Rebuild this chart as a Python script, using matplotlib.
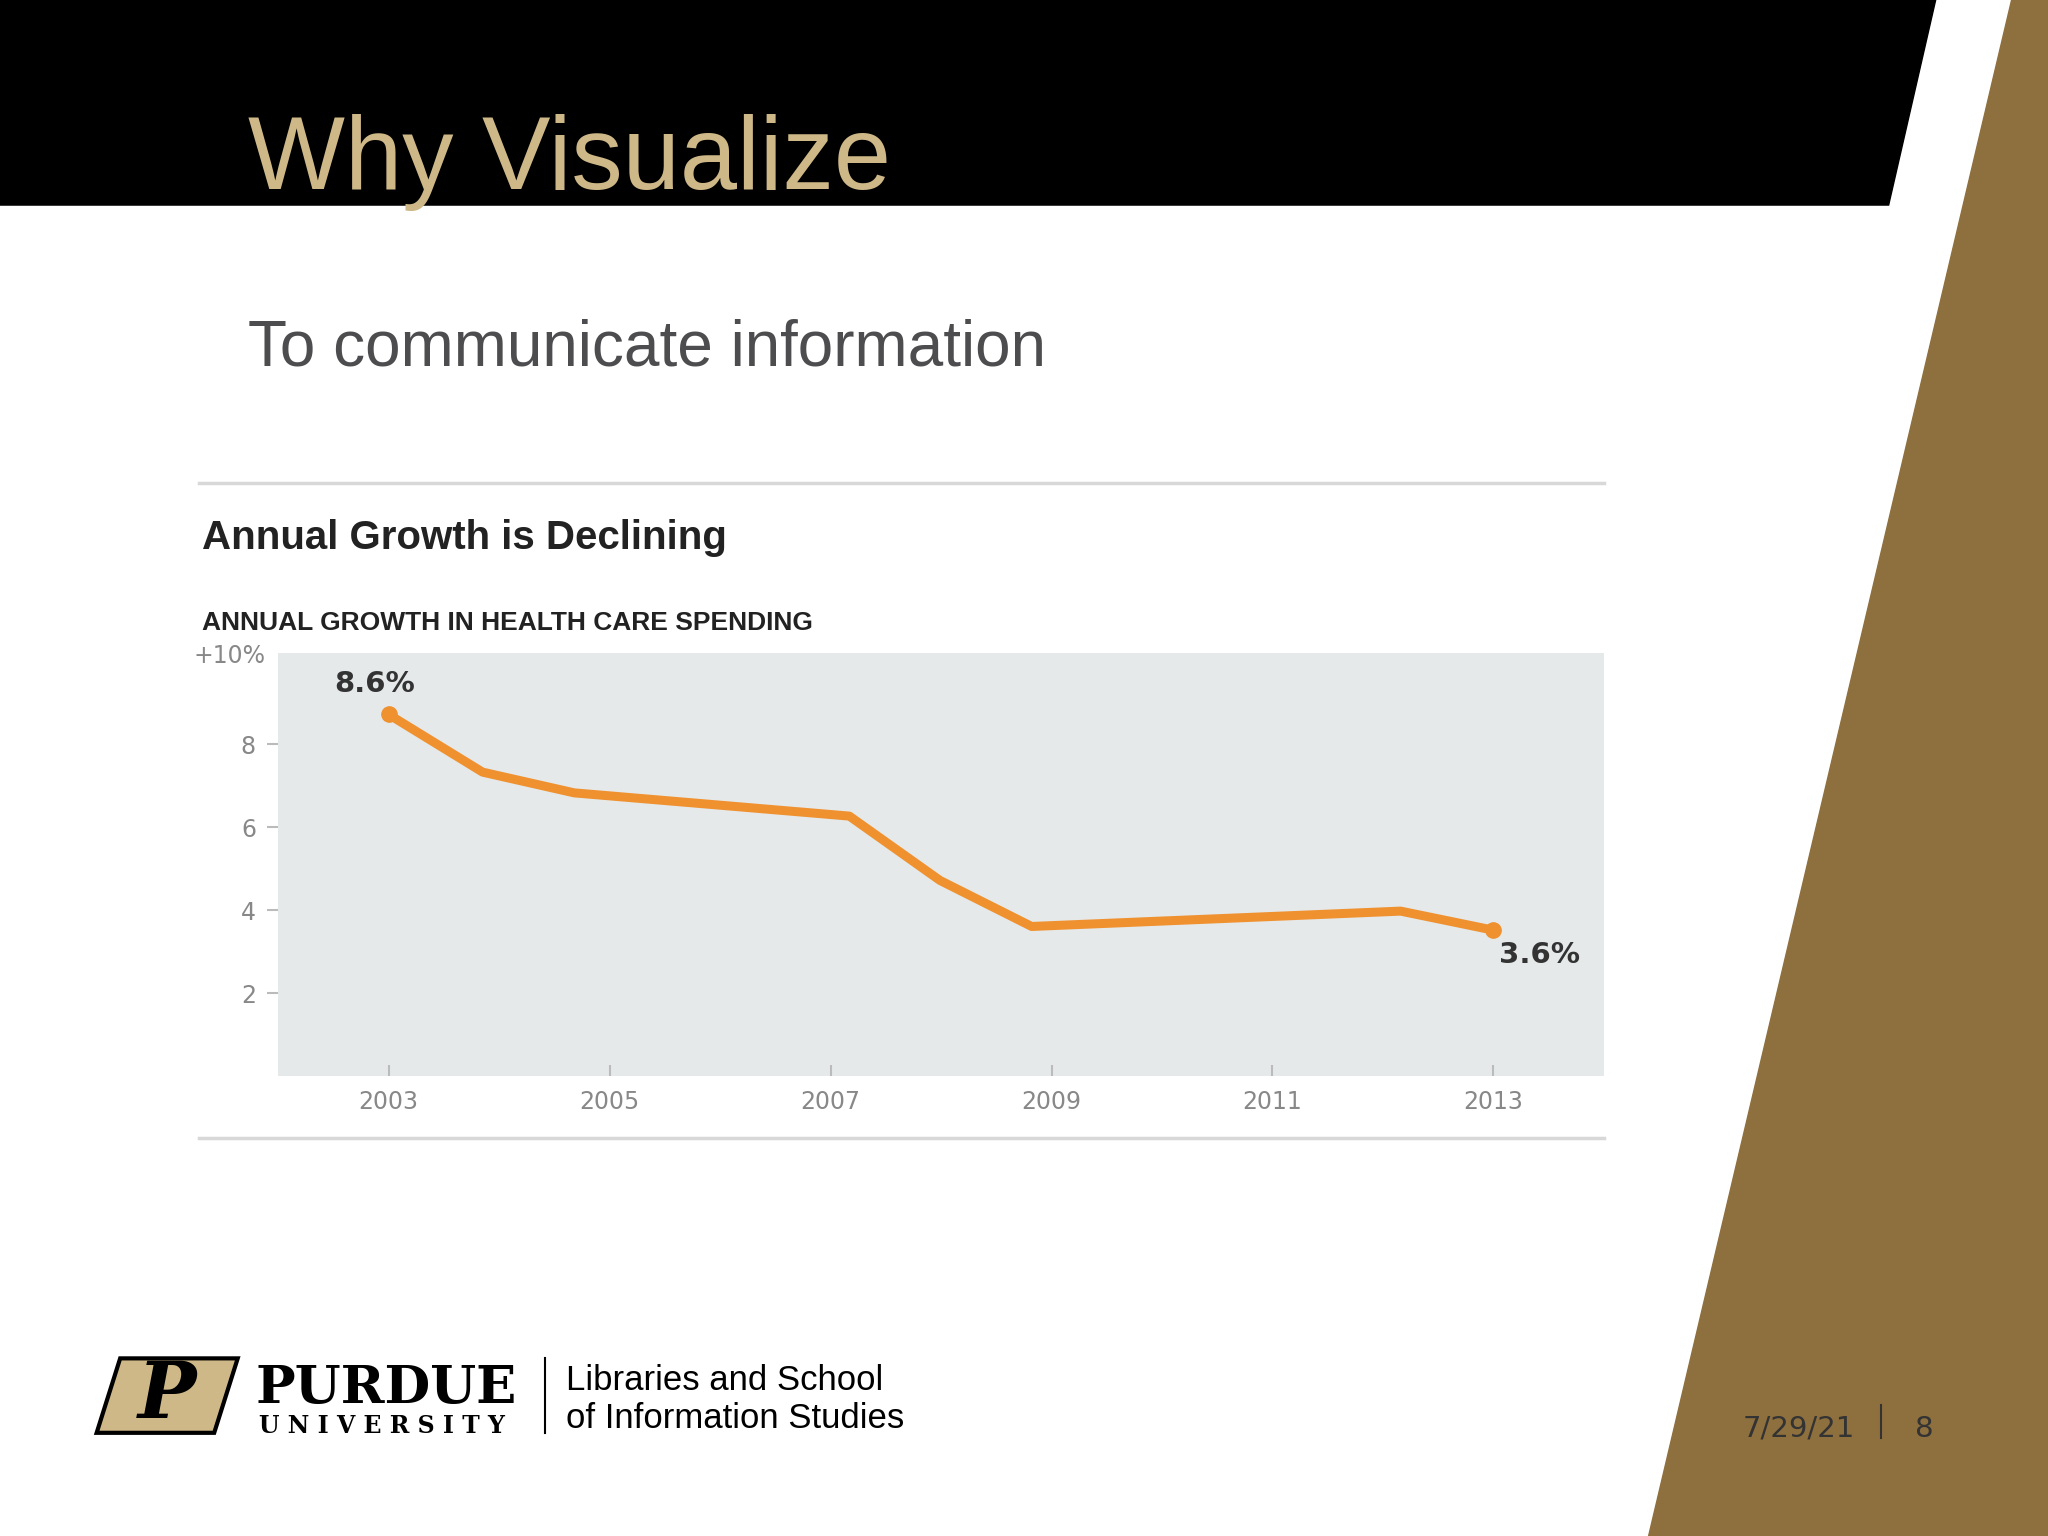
import matplotlib
matplotlib.use('Agg')
import matplotlib.pyplot as plt
from matplotlib.patches import Polygon

# data
years = [2003.0, 2003.85, 2004.68, 2007.17, 2007.99, 2008.82, 2012.16, 2013.0]
growth = [8.72, 7.33, 6.83, 6.27, 4.72, 3.61, 3.98, 3.52]
xticks = [2003, 2005, 2007, 2009, 2011, 2013]
yticks = [2, 4, 6, 8]

W, H = 1568, 1176  # layout measured on a 1568x1176 view


def fx(x):
    return x / W


def fy(y):
    return 1 - y / H


fig = plt.figure(figsize=(20.48, 15.36), dpi=100)
fig.patch.set_facecolor('white')

# header band and gold slant
fig.patches.append(Polygon([(0, fy(0)), (fx(1482), fy(0)), (fx(1446), fy(157)), (0, fy(157))],
                           closed=True, transform=fig.transFigure, color='black', zorder=0))
fig.patches.append(Polygon([(fx(1540), fy(0)), (1, fy(0)), (1, 0), (fx(1262), 0)],
                           closed=True, transform=fig.transFigure, color='#8E6F3E', zorder=0))

fig.text(fx(190), fy(145), "Why Visualize", fontsize=74, family='Liberation Sans', color='#CEB888',
         ha='left', va='baseline')
fig.text(fx(190), fy(280), "To communicate information", fontsize=46, family='Liberation Sans',
         color='#4D4D4F', ha='left', va='baseline')

# chart frame lines
for yy in (370, 871):
    fig.add_artist(plt.Line2D([fx(152), fx(1228)], [fy(yy), fy(yy)], transform=fig.transFigure,
                              color='#D8D8D8', lw=2.5))

fig.text(fx(155), fy(420), "Annual Growth is Declining", fontsize=29, fontweight='bold',
         family='Liberation Sans', color='#222222', ha='left', va='baseline')
fig.text(fx(155), fy(482), "ANNUAL GROWTH IN HEALTH CARE SPENDING", fontsize=19, fontweight='bold',
         family='Liberation Sans', color='#222222', ha='left', va='baseline')

ax = fig.add_axes([fx(213), fy(824), fx(1228) - fx(213), fy(500) - fy(824)])
ax.set_facecolor('#E5E9EA')
ax.plot(years, growth, color='#F0912F', lw=6.5, solid_joinstyle='round', solid_capstyle='round')
ax.plot([years[0], years[-1]], [growth[0], growth[-1]], 'o', color='#F0912F', ms=11)
ax.set_xlim(2002.0, 2014.0)
ax.set_ylim(0, 10.2)
ax.set_xticks(xticks)
ax.set_xticklabels([str(t) for t in xticks])
ax.set_yticks(yticks)
for s in ax.spines.values():
    s.set_visible(False)
ax.tick_params(axis='both', colors='#BBBBBB', labelcolor='#888888', labelsize=17, length=8, width=1.5)
ax.tick_params(axis='x', direction='in', pad=10)
ax.tick_params(axis='y', pad=8)

ax.annotate("8.6%", (years[0], growth[0]), xytext=(-10, 12), textcoords='offset points',
            fontsize=21, fontweight='bold', color='#333333', ha='center', va='bottom')
ax.annotate("3.6%", (years[-1], growth[-1]), xytext=(4, -8), textcoords='offset points',
            fontsize=21, fontweight='bold', color='#333333', ha='left', va='top')
fig.text(fx(203), fy(502), "+10%", fontsize=17, color='#888888', ha='right', va='center')

# footer: Purdue logo approximation
fig.patches.append(Polygon([(fx(92), fy(1040)), (fx(182), fy(1040)), (fx(164), fy(1097)), (fx(74), fy(1097))],
                           closed=True, transform=fig.transFigure, facecolor='#CEB888',
                           edgecolor='black', lw=3, zorder=1))
fig.text(fx(128), fy(1069), "P", fontsize=56, fontweight='bold', family='DejaVu Serif',
         color='black', ha='center', va='center', style='italic')
fig.text(fx(196), fy(1074), "PURDUE", fontsize=38, fontweight='bold', family='DejaVu Serif',
         color='black', ha='left', va='baseline')
fig.text(fx(198), fy(1097), "U N I V E R S I T Y", fontsize=17, fontweight='bold', family='DejaVu Serif',
         color='black', ha='left', va='baseline')
fig.add_artist(plt.Line2D([fx(417), fx(417)], [fy(1040), fy(1097)], transform=fig.transFigure,
                          color='black', lw=1.5))
fig.text(fx(433), fy(1064), "Libraries and School", fontsize=25, family='Liberation Sans',
         color='black', ha='left', va='baseline')
fig.text(fx(433), fy(1093), "of Information Studies", fontsize=25, family='Liberation Sans',
         color='black', ha='left', va='baseline')

fig.text(fx(1420), fy(1100), "7/29/21", fontsize=21, color='#333333', ha='right', va='baseline')
fig.add_artist(plt.Line2D([fx(1440), fx(1440)], [fy(1076), fy(1101)], transform=fig.transFigure,
                          color='#333333', lw=1.5))
fig.text(fx(1473), fy(1100), "8", fontsize=21, color='#333333', ha='center', va='baseline')

fig.savefig("out.png", dpi=100)
